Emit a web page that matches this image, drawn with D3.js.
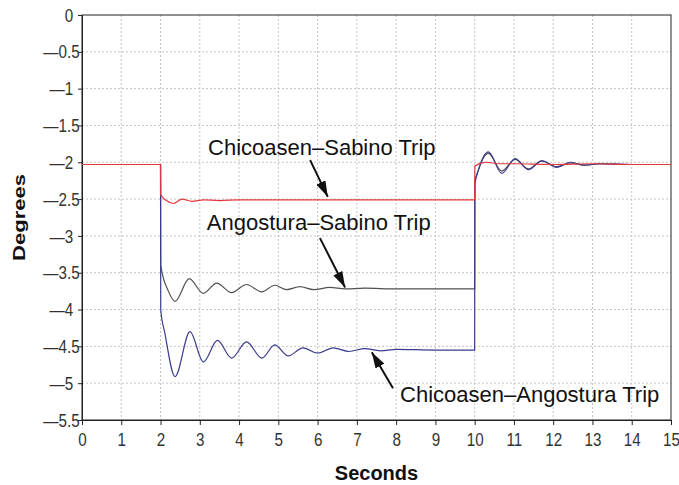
<!DOCTYPE html>
<html><head><meta charset="utf-8">
<script src="https://cdn.jsdelivr.net/npm/d3@7"></script>
<style>body{margin:0;background:#fff}</style>
</head><body>
<svg id="c" width="679" height="485"></svg>
<script>
// ---- data ----
const xTickValues = [0,1,2,3,4,5,6,7,8,9,10,11,12,13,14,15];
const yTickValues = [0,-0.5,-1,-1.5,-2,-2.5,-3,-3.5,-4,-4.5,-5,-5.5];

// Chicoasen–Sabino Trip (red)
const csTime  = [0, 2, 2.005, 2.15, 2.33, 2.55, 2.8, 3.1, 3.5, 4.0, 5, 6, 7, 8, 9, 10, 10.005, 10.3, 10.6, 11, 12, 13, 14, 15];
const csValue = [-2.03, -2.03, -2.44, -2.52, -2.56, -2.50, -2.53, -2.51, -2.52, -2.51, -2.51, -2.51, -2.51, -2.51, -2.51, -2.51, -2.05, -2.00, -2.02, -2.02, -2.03, -2.02, -2.03, -2.03];

// Angostura–Sabino Trip (black)
const asTime  = [0, 2, 2.005, 2.2, 2.37, 2.73, 3.09, 3.43, 3.81, 4.19, 4.58, 4.91, 5.21, 5.55, 5.9, 6.31, 6.7, 7.2, 8, 9, 10, 10.005, 10.1, 10.35, 10.69, 11.03, 11.37, 11.71, 12.09, 12.43, 12.8, 13.2, 14, 15];
const asValue = [-2.03, -2.03, -3.40, -3.75, -3.89, -3.58, -3.78, -3.64, -3.77, -3.66, -3.76, -3.67, -3.73, -3.69, -3.73, -3.70, -3.72, -3.71, -3.72, -3.72, -3.72, -2.28, -2.10, -1.88, -2.12, -1.96, -2.09, -1.98, -2.06, -2.01, -2.04, -2.02, -2.03, -2.03];

// Chicoasen–Angostura Trip (blue)
const caTime  = [0, 2, 2.005, 2.11, 2.37, 2.75, 3.09, 3.45, 3.81, 4.19, 4.58, 4.91, 5.25, 5.63, 6.0, 6.4, 6.8, 7.2, 7.6, 8.0, 9, 10, 10.005, 10.1, 10.35, 10.69, 11.03, 11.37, 11.71, 12.09, 12.43, 12.8, 13.2, 14, 15];
const caValue = [-2.03, -2.03, -4.00, -4.32, -4.91, -4.30, -4.71, -4.42, -4.66, -4.44, -4.66, -4.48, -4.63, -4.52, -4.59, -4.52, -4.57, -4.53, -4.56, -4.54, -4.55, -4.55, -2.30, -2.10, -1.86, -2.15, -1.95, -2.10, -1.98, -2.07, -2.00, -2.04, -2.02, -2.03, -2.03];

const annoLabels = ["Chicoasen–Sabino Trip", "Angostura–Sabino Trip", "Chicoasen–Angostura Trip"];

// ---- layout ----
const W = 679, H = 485;
const m = {left: 82, top: 15, right: 8, bottom: 65};
const svg = d3.select("#c");
const x = d3.scaleLinear().domain([0, 15]).range([m.left, W - m.right]);
const y = d3.scaleLinear().domain([-5.5, 0]).range([H - m.bottom, m.top]);

const font = "'Liberation Sans', Arial, sans-serif";

// grid
const g = svg.append("g");
g.selectAll("line.vx").data(xTickValues.slice(1, -1)).join("line")
  .attr("x1", d => x(d)).attr("x2", d => x(d))
  .attr("y1", y(0)).attr("y2", y(-5.5))
  .attr("stroke", "#c4c4c4").attr("stroke-dasharray", "2,2");
g.selectAll("line.hy").data(yTickValues.slice(1, -1)).join("line")
  .attr("x1", x(0)).attr("x2", x(15))
  .attr("y1", d => y(d)).attr("y2", d => y(d))
  .attr("stroke", "#c4c4c4").attr("stroke-dasharray", "2,2");

// frame
svg.append("rect").attr("x", x(0)).attr("y", y(0))
  .attr("width", x(15) - x(0)).attr("height", y(-5.5) - y(0))
  .attr("fill", "none").attr("stroke", "#222").attr("stroke-width", 1);

// axes
const xa = svg.append("g").attr("transform", `translate(0,${y(-5.5)})`)
  .call(d3.axisBottom(x).tickValues(xTickValues).tickSize(5).tickPadding(8).tickFormat(d3.format("d")));
xa.select(".domain").attr("stroke", "#222");
xa.selectAll(".tick line").attr("stroke", "#222");
xa.selectAll("text").attr("font-family", font).attr("font-size", 19).attr("fill", "#333")
  .attr("transform", "scale(0.8,1)");

const yFmt = d => d3.format("~g")(d).replace("\u2212", "\u2014");
const ya = svg.append("g").attr("transform", `translate(${x(0)},0)`)
  .call(d3.axisLeft(y).tickValues(yTickValues).tickSize(4).tickPadding(2).tickFormat(yFmt));
ya.select(".domain").attr("stroke", "#222");
ya.selectAll(".tick line").attr("stroke", "#222");
ya.selectAll("text").attr("font-family", font).attr("font-size", 19).attr("fill", "#333")
  .attr("x", d => Number.isInteger(d) ? -11 : -3)
  .attr("transform", "scale(0.8,1)");

// axis titles
svg.append("text").attr("x", (x(0) + x(15)) / 2).attr("y", 480)
  .attr("text-anchor", "middle").attr("font-family", font)
  .attr("font-weight", "bold").attr("font-size", 20).attr("fill", "#111").text("Seconds");
svg.append("text").attr("transform", `translate(25,${(y(0) + y(-5.5)) / 2}) rotate(-90) scale(1,0.75)`)
  .attr("text-anchor", "middle").attr("font-family", font)
  .attr("font-weight", "bold").attr("font-size", 22).attr("fill", "#111").text("Degrees");

// lines
const line = d3.line().x(d => x(d[0])).y(d => y(d[1])).curve(d3.curveMonotoneX);
const series = [
  {t: asTime, v: asValue, color: "#505050"},
  {t: caTime, v: caValue, color: "#3b3b8f"},
  {t: csTime, v: csValue, color: "#e0383c"}
];
series.forEach(s => {
  svg.append("path").datum(s.t.map((t, i) => [t, s.v[i]]))
    .attr("d", line).attr("fill", "none").attr("stroke", s.color).attr("stroke-width", 1.2);
});

// annotations
const annoPos = [[3.21, -1.90], [3.18, -2.92], [8.10, -5.26]];
annoLabels.forEach((lab, i) => {
  svg.append("text").attr("x", x(annoPos[i][0])).attr("y", y(annoPos[i][1]))
    .attr("font-family", font).attr("font-size", 22).attr("fill", "#111").text(lab);
});

svg.append("defs").append("marker").attr("id", "ah")
  .attr("viewBox", "0 0 16 10").attr("refX", 16).attr("refY", 5)
  .attr("markerWidth", 16).attr("markerHeight", 10).attr("markerUnits", "userSpaceOnUse")
  .attr("orient", "auto")
  .append("path").attr("d", "M0,0 L16,5 L0,10 Z").attr("fill", "#111");

const arrows = [
  [[5.81, -1.97], [6.26, -2.47]],
  [[6.06, -3.03], [6.70, -3.70]],
  [[7.92, -5.07], [7.38, -4.58]]
];
arrows.forEach(a => {
  svg.append("line").attr("x1", x(a[0][0])).attr("y1", y(a[0][1]))
    .attr("x2", x(a[1][0])).attr("y2", y(a[1][1]))
    .attr("stroke", "#111").attr("stroke-width", 2).attr("marker-end", "url(#ah)");
});
</script>
</body></html>
